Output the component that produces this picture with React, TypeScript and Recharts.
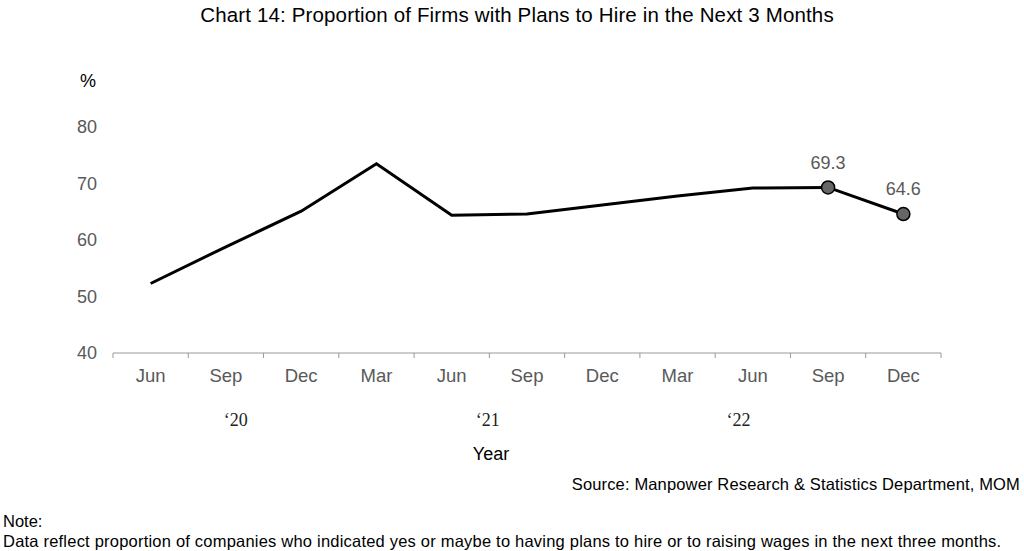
import React from 'react'
import { ComposedChart, Line, XAxis, YAxis } from 'recharts'

// ── Data ──────────────────────────────────────────────────────────────────────

const QUARTERS = ['Jun', 'Sep', 'Dec', 'Mar', 'Jun', 'Sep', 'Dec', 'Mar', 'Jun', 'Sep', 'Dec']
const HIRING_SHARE = [52.3, 58.8, 65.1, 73.5, 64.4, 64.6, 66.2, 67.8, 69.2, 69.3, 64.6]
const Y_TICKS = [40, 50, 60, 70, 80]

// year label sits under a quarter, shifted by a fraction of a band
const YEAR_LABELS = ['\u201820', '\u201821', '\u201822']
const YEAR_AT_INDEX = [1, 4, 8]
const YEAR_SHIFT = [0.13, 0.48, -0.19]

// only the latest readings get a marker and a value label
const HIGHLIGHT_FROM = 9

// ── Layout ────────────────────────────────────────────────────────────────────

const W = 1024
const H = 551
const MARGIN = { top: 127, right: 83, bottom: 168, left: 53 }
const Y_AXIS_W = 60
const PLOT_W = W - MARGIN.left - Y_AXIS_W - MARGIN.right
const BAND = PLOT_W / QUARTERS.length

const FONT = '"Liberation Sans", Arial, Helvetica, sans-serif'
const GREY_TEXT = '#595959'

// ── Ticks, dots, labels ───────────────────────────────────────────────────────

function QuarterTick(props: any) {
  const { x, y, payload } = props
  const i = payload.index as number
  const yi = YEAR_AT_INDEX.indexOf(i)
  return (
    <g>
      <line x1={x - BAND / 2} x2={x - BAND / 2} y1={y} y2={y + 5} stroke="#999" />
      {i === QUARTERS.length - 1 && (
        <line x1={x + BAND / 2} x2={x + BAND / 2} y1={y} y2={y + 5} stroke="#999" />
      )}
      <text x={x} y={y + 22} dy="0.355em" textAnchor="middle" fill={GREY_TEXT}
        fontSize={18.5} fontFamily={FONT}>
        {QUARTERS[i]}
      </text>
      {yi >= 0 && (
        <text x={x + YEAR_SHIFT[yi] * BAND} y={y + 67} dy="0.355em" textAnchor="middle"
          fill="#222" fontSize={18} fontFamily='"Liberation Serif", "Times New Roman", serif'>
          {YEAR_LABELS[yi]}
        </text>
      )}
    </g>
  )
}

function LatestDot(props: any) {
  const { cx, cy, index } = props
  if (index < HIGHLIGHT_FROM) return <g key={`d${index}`} />
  return <circle key={`d${index}`} cx={cx} cy={cy} r={6.5} fill="#666" stroke="#000" strokeWidth={1.5} />
}

function LatestLabel(props: any) {
  const { x, y, index, value } = props
  if (index < HIGHLIGHT_FROM) return null
  return (
    <text x={x} y={y - 25} dy="0.355em" textAnchor="middle" fill={GREY_TEXT}
      fontSize={18} fontFamily={FONT}>
      {Number(value).toFixed(1)}
    </text>
  )
}

// ── Page ──────────────────────────────────────────────────────────────────────

const txt = (top: number, extra: React.CSSProperties): React.CSSProperties => ({
  position: 'absolute', top, lineHeight: '20px', whiteSpace: 'nowrap', fontFamily: FONT, color: '#000', ...extra,
})

export default function App() {
  const rows = QUARTERS.map((q, i) => ({ key: `${q}-${i}`, q, share: HIRING_SHARE[i] }))
  return (
    <div style={{ position: 'absolute', left: 0, top: 0, width: W, height: H, background: '#fff', overflow: 'hidden' }}>
      <div style={txt(5, { left: 0, width: W, textAlign: 'center', fontSize: 20.5, letterSpacing: 0.15, paddingLeft: 10, boxSizing: 'border-box' })}>
        Chart 14: Proportion of Firms with Plans to Hire in the Next 3 Months
      </div>
      <div style={txt(71, { left: 80, fontSize: 18 })}>%</div>

      <div style={{ position: 'absolute', left: 0, top: 0 }}>
        <ComposedChart width={W} height={H} data={rows} margin={MARGIN}>
          <XAxis
            dataKey="key"
            tick={<QuarterTick />}
            tickLine={false}
            tickSize={0}
            tickMargin={0}
            interval={0}
            height={30}
            padding={{ left: BAND / 2, right: BAND / 2 }}
            axisLine={{ stroke: '#999', strokeWidth: 1 }}
          />
          <YAxis
            domain={[40, 80]}
            ticks={Y_TICKS}
            width={Y_AXIS_W}
            axisLine={false}
            tickLine={false}
            tickMargin={10}
            tick={{ fontSize: 18, fill: GREY_TEXT, fontFamily: FONT }}
          />
          <Line
            dataKey="share"
            type="linear"
            stroke="#000"
            strokeWidth={3}
            dot={<LatestDot />}
            activeDot={false}
            label={<LatestLabel />}
            isAnimationActive={false}
          />
        </ComposedChart>
      </div>

      <div style={txt(444, { left: 491, transform: 'translateX(-50%)', fontSize: 18 })}>Year</div>
      <div style={txt(474, { right: 4, fontSize: 16.5, letterSpacing: 0.15 })}>
        Source: Manpower Research &amp; Statistics Department, MOM
      </div>
      <div style={txt(511, { left: 3, fontSize: 16.5 })}>Note:</div>
      <div style={txt(531, { left: 3, fontSize: 16.5, letterSpacing: 0.21 })}>
        Data reflect proportion of companies who indicated yes or maybe to having plans to hire or to raising wages in the next three months.
      </div>
    </div>
  )
}
